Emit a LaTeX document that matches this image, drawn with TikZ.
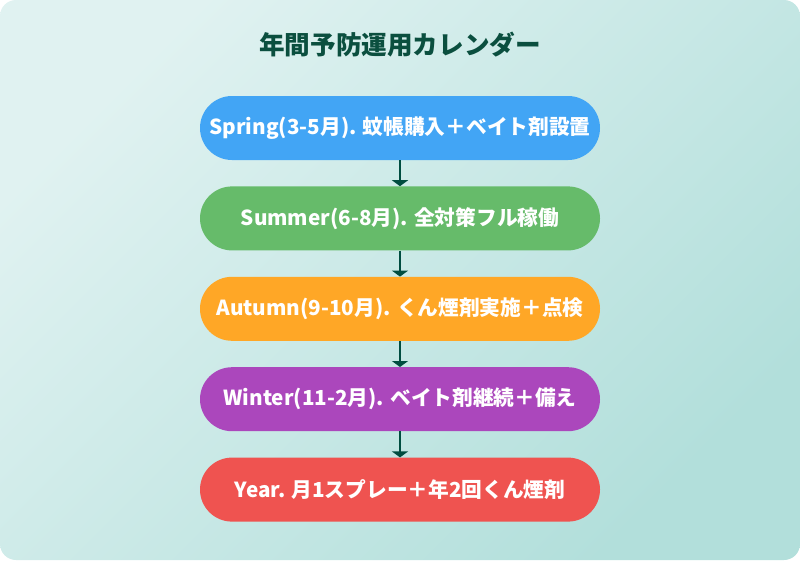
\documentclass[tikz,border=0pt]{standalone}
\usepackage{fontspec}
\setmainfont{Noto Sans CJK JP}
\usepackage{xcolor}
\usepackage{tikz}
\usetikzlibrary{positioning}
\usetikzlibrary{arrows.meta}
\definecolor{bgtop}{HTML}{E0F2F1}
\definecolor{bgbot}{HTML}{B2DFDB}
\definecolor{titlegreen}{HTML}{0B4F3F}
\definecolor{arrowgreen}{HTML}{004D40}
\definecolor{cspring}{HTML}{42A5F5}
\definecolor{csummer}{HTML}{66BB6A}
\definecolor{cautumn}{HTML}{FFA726}
\definecolor{cwinter}{HTML}{AB47BC}
\definecolor{cyear}{HTML}{EF5350}
\tikzset{
  pill/.style={rectangle, rounded corners=32pt, minimum width=400pt,
    minimum height=64pt, inner sep=0pt, text=white,
    font=\bfseries\fontsize{20.7pt}{24pt}\selectfont},
  flow/.style={draw=arrowgreen, line width=2pt,
    -{Triangle[width=16pt,length=6pt]}}
}

\begin{document}
\begin{tikzpicture}[x=1pt,y=-1pt]
  \useasboundingbox (0,0) rectangle (800,560);
  \shade[rounded corners=16pt, top color=bgtop, bottom color=bgbot, shading angle=45]
    (0,0) rectangle (800,560);
  \node[text=titlegreen, font=\bfseries\fontsize{25.6pt}{30pt}\selectfont] (title) at (400,45) {年間予防運用カレンダー};
  \node[pill, fill=cspring] (spr) at (400,128) {Spring(3-5月). 蚊帳購入＋ベイト剤設置};
  \node[pill, fill=csummer, below=26pt of spr] (sum) {Summer(6-8月). 全対策フル稼働};
  \node[pill, fill=cautumn, below=26pt of sum] (aut) {Autumn(9-10月). くん煙剤実施＋点検};
  \node[pill, fill=cwinter, below=26pt of aut] (win) {Winter(11-2月). ベイト剤継続＋備え};
  \node[pill, fill=cyear, below=26pt of win] (yr) {Year. 月1スプレー＋年2回くん煙剤};
  \foreach \a/\b in {spr/sum,sum/aut,aut/win,win/yr}
    \draw[flow] (\a.south) -- (\b.north);
\end{tikzpicture}
\end{document}
